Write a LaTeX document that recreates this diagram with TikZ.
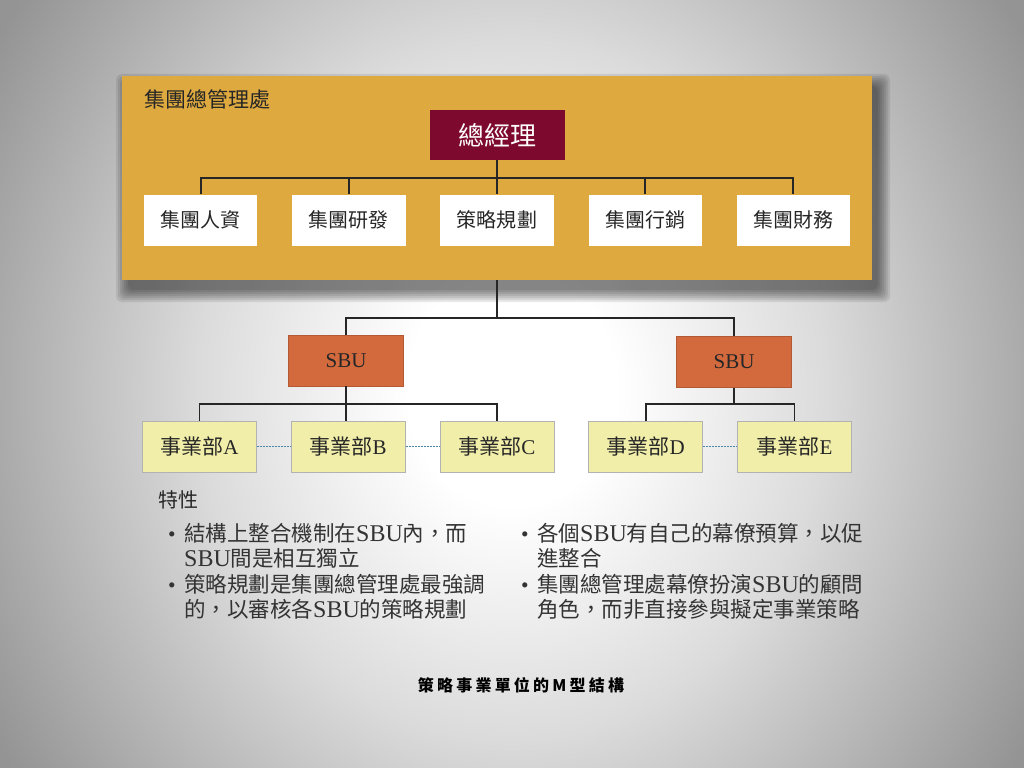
\documentclass[tikz,border=0pt]{standalone}
\usepackage{fontspec}
\setmainfont{Liberation Serif}
\newfontfamily\cjk{Noto Sans CJK TC}
\usepackage{tikz}
\usetikzlibrary{positioning}
\usetikzlibrary{calc}
\usetikzlibrary{chains}
\definecolor{groupgold}{RGB}{222,169,63}
\definecolor{ceored}{RGB}{125,10,46}
\definecolor{sbuorange}{RGB}{211,106,62}
\definecolor{divyellow}{RGB}{241,238,170}
\definecolor{peerblue}{RGB}{74,134,168}
\pgfdeclareradialshading{slidebg}{\pgfpoint{0bp}{0bp}}{color(0bp)=(white); color(5bp)=(white); color(15bp)=(black!14); color(29bp)=(black!42); color(50bp)=(black!42)}
\newcommand{\zh}[1]{{\cjk #1}}
\newcommand{\sbu}{{\fontsize{24bp}{24.3bp}\selectfont SBU}}
\newcommand{\dnode}[2]{\node(#1)[dept]{\zh{#2}}}
\newcommand{\unode}[2]{\node(#1)[division]{\zh{事業部}#2}}

\begin{document}
\begin{tikzpicture}[
        x=1bp, y=-1bp,
        start chain,
        every node/.style={inner sep=0pt},
        wire/.style={draw=black!85, line width=1.4bp},
        peer/.style={draw=peerblue, line width=1.2bp, dash pattern=on 2bp off 1bp},
        haze/.style={fill=black, fill opacity=0.085, rounded corners=6bp},
        groupbox/.style={rectangle, fill=groupgold, minimum width=750bp, minimum height=204bp},
        ceobox/.style={rectangle, fill=ceored, text=white, minimum width=135bp, minimum height=50bp,
                       font=\fontsize{26bp}{30bp}\selectfont},
        dept/.style={rectangle, fill=white, minimum width=113bp, minimum height=51bp,
                     text=black!85, font=\fontsize{20bp}{24bp}\selectfont},
        sbu/.style={rectangle, fill=sbuorange, draw=sbuorange!85!black, line width=0.6bp,
                    minimum width=115bp, minimum height=51bp, text=black!85, font=\fontsize{21bp}{24bp}\selectfont},
        division/.style={rectangle, fill=divyellow, draw=black!30, line width=0.8bp, minimum width=114bp,
                         minimum height=51bp, text=black!85, font=\fontsize{21bp}{24bp}\selectfont},
        notes/.style={text=black!80, font=\fontsize{21.5bp}{24.3bp}\selectfont}
      ]
      \useasboundingbox (0,0) rectangle (1024,768);
      \begin{scope}
        \clip (0,0) rectangle (1024,768);
        \shade[shading=slidebg] (-9,-189) rectangle (1033,969);
      \end{scope}

      % soft shadow under the head office
      \fill[haze] (128,86) rectangle (878,290);
      \fill[haze] (126,84) rectangle (880,292);
      \fill[haze] (124,82) rectangle (882,294);
      \fill[haze] (122,80) rectangle (884,296);
      \fill[haze] (120,78) rectangle (886,298);
      \fill[haze] (118,76) rectangle (888,300);
      \fill[haze] (116,74) rectangle (890,302);

      % group head office
      \node (group) [groupbox] at (497,178) {};
      \node (grouptitle) [anchor=west, text=black!85, font=\fontsize{21bp}{24bp}\selectfont] at (144,99) {\zh{集團總管理處}};
      \node (ceo) [ceobox] at (497,135) {\zh{總經理}};
      \matrix (depts) [column sep=35bp] at (497,220) {
        \dnode{hr}{集團人資}; & \dnode{rd}{集團研發}; & \dnode{plan}{策略規劃}; & \dnode{mkt}{集團行銷}; & \dnode{fin}{集團財務}; \\
      };
      \coordinate (deptbus) at (0,178);
      \draw[wire] (ceo.south) -- (ceo.south |- plan.north);
      \draw[wire] (hr.north) |- (deptbus -| fin.north) -- (fin.north);
      \draw[wire] (rd.north) -- (rd.north |- deptbus);
      \draw[wire] (mkt.north) -- (mkt.north |- deptbus);

      % strategic business units
      \node (sbuL) [sbu] at (346,360.5) {SBU};
      \node (sbuR) [sbu] at (734,362) {SBU};
      \coordinate (sbubus) at (0,318);
      \draw[wire] (group.south) -- (group.south |- sbubus);
      \draw[wire] (sbuL.north) |- (sbubus -| sbuR.north) -- (sbuR.north);

      \matrix (divs) [column sep=34bp] at (497,446.5) {
        \unode{divA}{A}; & \unode{divB}{B}; & \unode{divC}{C}; & \unode{divD}{D}; & \unode{divE}{E}; \\
      };
      \coordinate (divbus) at (0,404);
      \draw[wire] (sbuL.south) -- (sbuL.south |- divB.north);
      \draw[wire] (divA.north) |- (divbus -| divC.north) -- (divC.north);
      \draw[wire] (sbuR.south) -- (sbuR.south |- divbus);
      \draw[wire] (divD.north) |- (divbus -| divE.north) -- (divE.north);
      {
        [start chain] \chainin(divA);\chainin(divB) [join=by {peer}];\chainin(divC) [join=by {peer}];
        [start chain] \chainin(divD);\chainin(divE) [join=by {peer}];
      }

      % features
      \node (traits) [anchor=west, text=black!85, font=\fontsize{20bp}{24bp}\selectfont] at (158,500) {\zh{特性}};
      \node (notesL) [notes, anchor=north west] at (168,523) {\begin{tabular}{@{}l@{\hspace{8.5bp}}l@{}}
        \textbullet & \zh{結構上整合機制在}\sbu\zh{內，而}\\
                    & \sbu\zh{間是相互獨立}\\
        \textbullet & \zh{策略規劃是集團總管理處最強調}\\
                    & \zh{的，以審核各}\sbu\zh{的策略規劃}
      \end{tabular}};
      \node (notesR) [notes, anchor=north west] at (521,523) {\begin{tabular}{@{}l@{\hspace{8.5bp}}l@{}}
        \textbullet & \zh{各個}\sbu\zh{有自己的幕僚預算，以促}\\
                    & \zh{進整合}\\
        \textbullet & \zh{集團總管理處幕僚扮演}\sbu\zh{的顧問}\\
                    & \zh{角色，而非直接參與擬定事業策略}
      \end{tabular}};
      \node (caption) [text=black, font=\cjk\bfseries\fontsize{16bp}{20bp}\selectfont\addfontfeatures{LetterSpace=20}] at (521,685) {策略事業單位的M型結構};

    \end{tikzpicture}
\end{document}
